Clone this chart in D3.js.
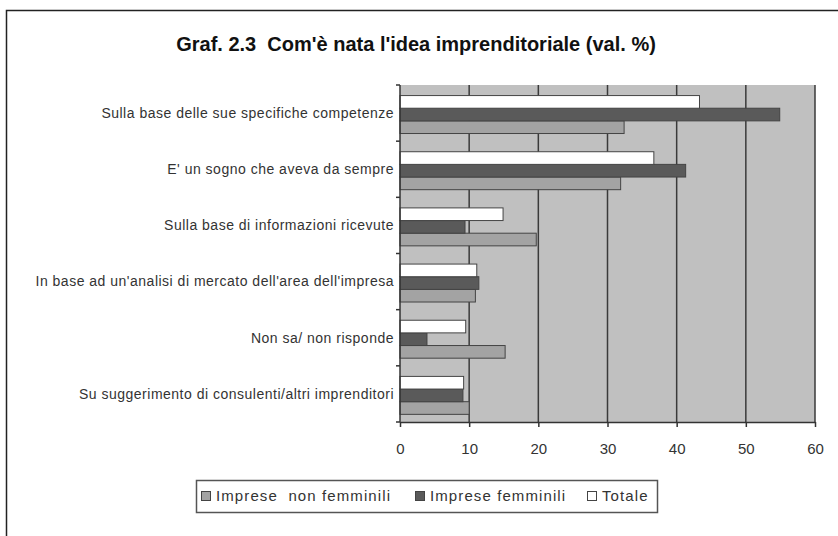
<!DOCTYPE html>
<html>
<head>
<meta charset="utf-8">
<script src="https://cdn.jsdelivr.net/npm/d3@7"></script>
<style>
  body { margin: 0; background: #fff; }
  svg { display: block; font-family: "Liberation Sans", Arial, sans-serif; }
</style>
</head>
<body>
<svg id="chart" width="838" height="536"></svg>
<script>
const categories = [
  "Sulla base delle sue specifiche competenze",
  "E' un sogno che aveva da sempre",
  "Sulla base di informazioni ricevute",
  "In base ad un'analisi di mercato dell'area dell'impresa",
  "Non sa/ non risponde",
  "Su suggerimento di consulenti/altri imprenditori"
];
const seriesNames = ["Imprese  non femminili", "Imprese femminili", "Totale"];
const nonFemminili = [32.4, 31.9, 19.7, 10.9, 15.2, 10.0];
const femminili = [54.9, 41.3, 9.4, 11.4, 3.9, 9.1];
const totale = [43.3, 36.7, 14.9, 11.1, 9.5, 9.2];
const xTicks = [0, 10, 20, 30, 40, 50, 60];

const seriesValues = [nonFemminili, femminili, totale];
const seriesColors = ["#a3a3a3", "#5a5a5a", "#ffffff"];

const svg = d3.select("#chart");
const margin = { left: 400, right: 23, top: 85, bottom: 114 };
const width = 838, height = 536;

// outer frame (runs off the picture on the right and bottom)
svg.append("rect")
  .attr("x", 6.5).attr("y", 10.5)
  .attr("width", 860).attr("height", 560)
  .attr("fill", "none").attr("stroke", "#222").attr("stroke-width", 1.5);

svg.append("text")
  .attr("x", 416).attr("y", 51)
  .attr("text-anchor", "middle")
  .attr("font-weight", "bold").attr("font-size", 20)
  .attr("fill", "#111")
  .text("Graf. 2.3  Com'è nata l'idea imprenditoriale (val. %)")
  .attr("xml:space", "preserve")
  .style("white-space", "pre");

const x = d3.scaleLinear().domain([0, 60]).range([margin.left, width - margin.right]);
const y = d3.scaleBand().domain(categories).range([margin.top, height - margin.bottom]).padding(0);
// top to bottom inside a group: Totale, femminili, non femminili
const inner = d3.scaleBand().domain([2, 1, 0]).range([0, y.bandwidth()])
  .paddingInner(0).paddingOuter(0.72).align(0.58);

// plot background
svg.append("rect")
  .attr("x", x(0)).attr("y", y.range()[0])
  .attr("width", x(60) - x(0)).attr("height", y.range()[1] - y.range()[0])
  .attr("fill", "#c0c0c0");

// gridlines
svg.append("g").selectAll("line")
  .data(xTicks.slice(1))
  .join("line")
  .attr("x1", d => x(d)).attr("x2", d => x(d))
  .attr("y1", y.range()[0]).attr("y2", y.range()[1])
  .attr("stroke", "#3a3a3a").attr("stroke-width", 1.5);

// bars
const groups = svg.append("g").selectAll("g")
  .data(categories)
  .join("g")
  .attr("transform", d => `translate(0,${y(d)})`);

groups.selectAll("rect")
  .data((d, i) => seriesValues.map((vals, s) => ({ s, v: vals[i] })))
  .join("rect")
  .attr("x", x(0))
  .attr("y", d => inner(d.s))
  .attr("width", d => x(d.v) - x(0))
  .attr("height", inner.bandwidth())
  .attr("fill", d => seriesColors[d.s])
  .attr("stroke", "#444").attr("stroke-width", 1);

// x axis
const xAxis = svg.append("g")
  .attr("transform", `translate(0,${y.range()[1]})`)
  .call(d3.axisBottom(x).tickValues(xTicks).tickSize(5).tickPadding(16).tickSizeOuter(0));
xAxis.select(".domain").attr("stroke", "#333").attr("stroke-width", 1.5);
xAxis.selectAll(".tick line").attr("stroke", "#333").attr("stroke-width", 1.5);
xAxis.selectAll("text").attr("font-size", 15).attr("fill", "#333")
  .attr("font-family", "Liberation Sans, Arial, sans-serif");

// y axis: line, boundary ticks, centred labels
const yAxis = svg.append("g");
yAxis.append("line")
  .attr("x1", x(0)).attr("x2", x(0))
  .attr("y1", y.range()[0]).attr("y2", y.range()[1])
  .attr("stroke", "#333").attr("stroke-width", 1.5);
const bounds = categories.map(c => y(c)).concat([y.range()[1]]);
yAxis.selectAll("line.b")
  .data(bounds)
  .join("line")
  .attr("class", "b")
  .attr("x1", x(0) - 4).attr("x2", x(0))
  .attr("y1", d => d).attr("y2", d => d)
  .attr("stroke", "#333").attr("stroke-width", 1.5);
yAxis.selectAll("text")
  .data(categories)
  .join("text")
  .attr("x", x(0) - 6)
  .attr("y", d => y(d) + y.bandwidth() / 2)
  .attr("dy", "0.35em")
  .attr("text-anchor", "end")
  .attr("font-size", 14).attr("letter-spacing", 0.5).attr("fill", "#333")
  .text(d => d);

// legend
const legend = svg.append("g");
legend.append("rect")
  .attr("x", 196.5).attr("y", 480.5).attr("width", 461).attr("height", 32)
  .attr("fill", "#fff").attr("stroke", "#555").attr("stroke-width", 1.5);
const legendX = [201, 415, 587];
seriesNames.forEach((name, s) => {
  legend.append("rect")
    .attr("x", legendX[s] + 0.5).attr("y", 491.5).attr("width", 9).attr("height", 9)
    .attr("fill", seriesColors[s]).attr("stroke", "#444");
  legend.append("text")
    .attr("x", legendX[s] + 15).attr("y", 496)
    .attr("dy", "0.35em")
    .attr("font-size", 15).attr("letter-spacing", 1.1).attr("fill", "#333")
    .attr("xml:space", "preserve")
    .style("white-space", "pre")
    .text(name);
});
</script>
</body>
</html>
